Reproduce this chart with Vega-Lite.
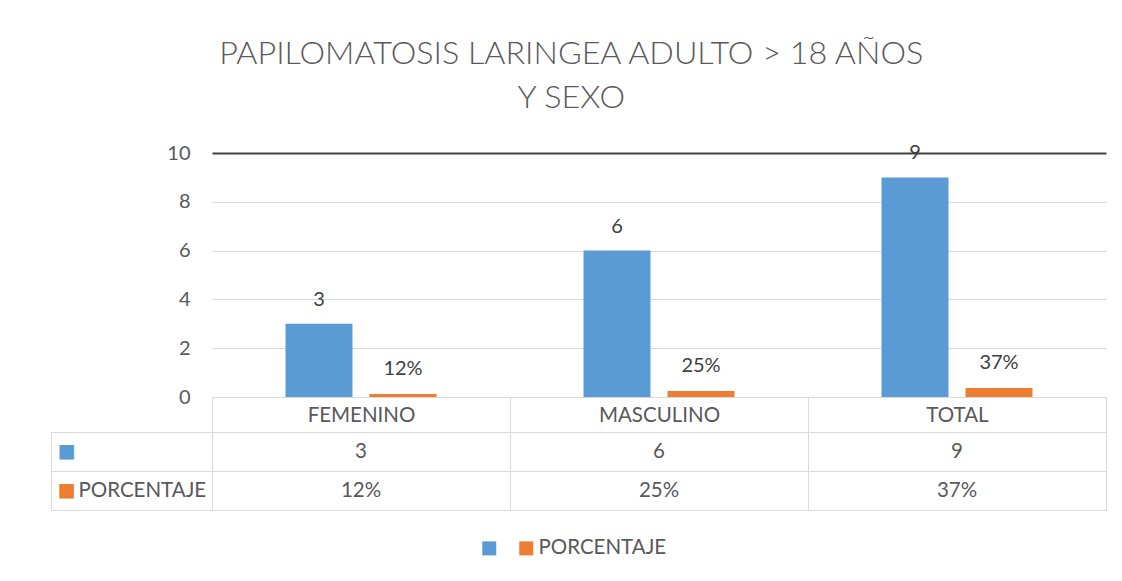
{
  "$schema": "https://vega.github.io/schema/vega-lite/v6.json",
  "background": "white",
  "padding": {"left": 50, "top": 37, "right": 17, "bottom": 10},
  "bounds": "flush",
  "title": {
    "text": ["PAPILOMATOSIS LARINGEA ADULTO > 18 AÑOS", "Y SEXO"],
    "font": "Lato",
    "fontWeight": 300,
    "fontSize": 32.3,
    "color": "#595959",
    "anchor": "middle",
    "lineHeight": 44,
    "offset": 29,
    "dx": -7
  },
  "config": {
    "font": "Lato",
    "view": {"stroke": null},
    "axis": {"labelFont": "Lato", "labelColor": "#595959"},
    "legend": {"labelFont": "Lato"}
  },
  "datasets": {
    "d": [
      {"category": "FEMENINO", "series": "N", "value": 3},
      {"category": "MASCULINO", "series": "N", "value": 6},
      {"category": "TOTAL", "series": "N", "value": 9},
      {"category": "FEMENINO", "series": "PORCENTAJE", "value": 0.12},
      {"category": "MASCULINO", "series": "PORCENTAJE", "value": 0.25},
      {"category": "TOTAL", "series": "PORCENTAJE", "value": 0.37}
    ]
  },
  "spacing": 35,
  "vconcat": [
    {
      "width": 894,
      "height": 244,
      "data": {"name": "d"},
      "encoding": {
        "x": {
          "field": "category", "type": "nominal", "sort": null,
          "scale": {"paddingInner": 0, "paddingOuter": 0},
          "axis": {
            "title": null, "labelAngle": 0, "labelFontSize": 20.5,
            "tickBand": "extent", "tickSize": 35, "tickColor": "#D9D9D9",
            "domainColor": "#D9D9D9", "labelPadding": -17, "labelBaseline": "middle"
          }
        },
        "xOffset": {
          "field": "series", "type": "nominal",
          "scale": {"domain": ["N", "PORCENTAJE"], "paddingInner": 0.2024, "paddingOuter": 0.875}
        },
        "y": {
          "field": "value", "type": "quantitative", "stack": null,
          "scale": {"domain": [0, 10]},
          "axis": {
            "values": [0, 2, 4, 6, 8, 10], "title": null, "ticks": false, "domain": false,
            "labelPadding": 22, "labelFontSize": 20,
            "gridColor": {"condition": {"test": "datum.value == 10", "value": "#404040"}, "value": "#D9D9D9"},
            "gridWidth": {"condition": {"test": "datum.value == 10", "value": 2}, "value": 1}
          }
        }
      },
      "layer": [
        {
          "mark": {"type": "bar"},
          "encoding": {
            "color": {
              "field": "series", "type": "nominal",
              "scale": {"domain": ["N", "PORCENTAJE"], "range": ["#5B9BD5", "#ED7D31"]},
              "legend": {
                "title": null, "orient": "none", "direction": "horizontal",
                "legendX": 267, "legendY": 385,
                "symbolType": "square", "symbolSize": 196, "symbolStrokeWidth": 0,
                "labelFontSize": 20.5, "labelColor": "#595959", "labelOffset": 2,
                "labelExpr": "datum.value == 'PORCENTAJE' ? 'PORCENTAJE' : ''",
                "columnPadding": 14
              }
            }
          }
        },
        {
          "transform": [{"filter": "datum.series == 'N'"}],
          "mark": {"type": "text", "baseline": "bottom", "dy": -14, "fontSize": 20, "color": "#404040"},
          "encoding": {"text": {"field": "value", "type": "quantitative", "format": "d"}}
        },
        {
          "transform": [{"filter": "datum.series == 'PORCENTAJE'"}],
          "mark": {"type": "text", "baseline": "bottom", "dy": -15, "fontSize": 20, "color": "#404040"},
          "encoding": {"text": {"field": "value", "type": "quantitative", "format": ".0%"}}
        }
      ]
    },
    {
      "width": 894,
      "height": 78,
      "view": {"stroke": "#D9D9D9"},
      "data": {"name": "d"},
      "encoding": {
        "x": {
          "field": "category", "type": "nominal", "sort": null,
          "scale": {"paddingInner": 0, "paddingOuter": 0},
          "axis": {
            "title": null, "labels": false, "ticks": false, "domain": false,
            "grid": true, "tickBand": "extent", "gridColor": "#D9D9D9"
          }
        }
      },
      "layer": [
        {
          "transform": [{"filter": "datum.series == 'N'"}],
          "mark": {"type": "text", "fontSize": 20.5, "color": "#595959"},
          "encoding": {
            "y": {
              "datum": "n", "type": "nominal",
              "scale": {"domain": ["n", "p"], "paddingInner": 0, "paddingOuter": 0},
              "axis": {
                "orient": "left", "title": null, "tickBand": "extent", "tickSize": 161,
                "tickColor": "#D9D9D9", "domain": false, "grid": true, "gridColor": "#D9D9D9",
                "labelAlign": "left", "labelPadding": -6,
                "labelExpr": "datum.value === 'n' || datum.value === 'p' ? '■' : ''",
                "labelFontSize": 30,
                "labelColor": {"condition": {"test": "datum.value === 'p'", "value": "#ED7D31"}, "value": "#5B9BD5"}
              }
            },
            "text": {"field": "value", "type": "quantitative", "format": "d"}
          }
        },
        {
          "transform": [{"filter": "datum.series == 'PORCENTAJE'"}],
          "mark": {"type": "text", "fontSize": 20.5, "color": "#595959"},
          "encoding": {
            "y": {
              "datum": "p", "type": "nominal",
              "axis": {
                "orient": "left", "title": null, "offset": 161, "ticks": false, "tickSize": 0,
                "domain": true, "domainColor": "#D9D9D9", "grid": false,
                "labelAlign": "left", "labelPadding": -27,
                "labelExpr": "datum.value === 'p' ? 'PORCENTAJE' : ''",
                "labelFontSize": 20.5, "labelColor": "#595959"
              }
            },
            "text": {"field": "value", "type": "quantitative", "format": ".0%"}
          }
        }
      ],
      "resolve": {"axis": {"y": "independent"}}
    }
  ]
}
